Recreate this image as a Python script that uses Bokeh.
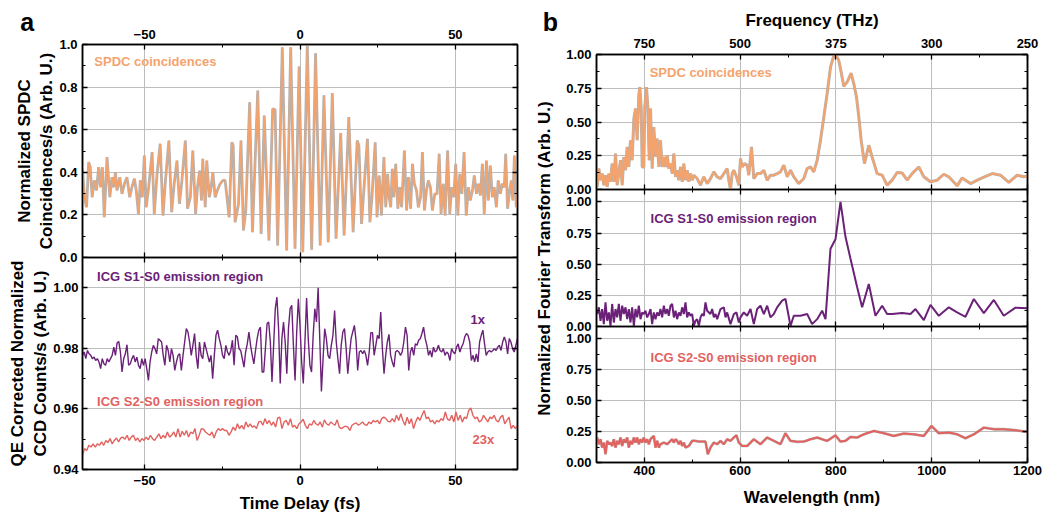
import numpy as np
from bokeh.plotting import figure
from bokeh.layouts import row, column
from bokeh.models import Range1d, LinearAxis, FixedTicker, NumeralTickFormatter, Label
from bokeh.embed import file_html
from bokeh.resources import INLINE

FONT = "Liberation Sans"
ORANGE = "#F5A36D"
GREY = "#A9A9A9"
PURPLE = "#6B2178"
PINK = "#E1625F"

# ---------------- Panel a: SPDC interferogram ----------------
spdc_t = [-70.0, -69.4, -68.7, -68.0, -67.5, -66.9, -66.2, -65.5, -64.8, -64.2,
          -63.6, -63.0, -62.1, -61.2, -60.5, -60.0, -59.4, -58.9, -58.0, -57.3,
          -56.5, -55.7, -54.8, -54.1, -53.3, -52.7, -52.0, -51.4, -50.75, -50.1,
          -49.5, -48.7, -47.6, -46.9, -46.0, -45.0, -44.1, -43.3, -42.2, -41.3,
          -40.5, -39.6, -38.8, -38.0, -36.9, -36.2, -35.3, -34.5, -33.6, -33.0,
          -32.3, -31.7, -31.3, -30.5, -30.0, -29.2, -28.6, -28.05, -27.3, -26.6,
          -25.7, -24.8, -24.1, -22.8, -21.95, -21.5, -20.9, -19.8, -19.0, -18.2,
          -17.45, -16.2, -15.3, -13.6, -12.5, -11.5, -10.0, -8.8, -8.0, -7.2,
          -5.7, -4.3, -3.0, -1.6, -0.3, 0.9, 2.35, 3.75, 5.0, 6.5,
          7.7, 9.1, 10.4, 11.6, 13.1, 14.2, 15.7, 17.1, 18.4, 18.95,
          19.8, 21.7, 22.5, 23.2, 24.2, 24.8, 25.5, 26.2, 27.0, 27.6,
          28.2, 28.7, 29.2, 29.7, 30.2, 30.8, 31.5, 32.1, 32.7, 33.6,
          34.3, 34.9, 35.6, 36.2, 36.8, 37.5, 38.1, 38.8, 39.4, 40.05,
          40.7, 41.3, 41.97, 42.6, 43.4, 44.1, 44.8, 45.4, 46.1, 46.7,
          47.5, 48.2, 48.8, 49.5, 50.1, 50.8, 51.4, 52.1, 52.8, 53.5,
          54.2, 54.8, 55.5, 56.1, 56.8, 57.4, 58.05, 58.7, 59.3, 60.0,
          60.6, 61.25, 61.9, 62.5, 63.2, 63.8, 64.5, 65.1, 65.75, 66.2,
          66.8, 67.5, 68.0, 68.5, 69.0, 69.6, 70.0]
spdc_v = [0.420, 0.283, 0.236, 0.448, 0.424, 0.283, 0.362, 0.315, 0.424, 0.330,
          0.424, 0.189, 0.471, 0.283, 0.377, 0.330, 0.401, 0.315, 0.377, 0.299,
          0.346, 0.377, 0.283, 0.330, 0.370, 0.315, 0.205, 0.362, 0.283, 0.479,
          0.236, 0.330, 0.495, 0.205, 0.393, 0.534, 0.197, 0.362, 0.549, 0.213,
          0.346, 0.455, 0.252, 0.362, 0.549, 0.229, 0.283, 0.502, 0.205, 0.330,
          0.408, 0.268, 0.463, 0.236, 0.455, 0.283, 0.330, 0.401, 0.283, 0.315,
          0.346, 0.362, 0.362, 0.189, 0.541, 0.526, 0.166, 0.250, 0.549, 0.127,
          0.220, 0.729, 0.119, 0.784, 0.111, 0.667, 0.080, 0.698, 0.693, 0.056,
          0.987, 0.033, 0.987, 0.041, 0.897, 0.025, 1.000, 0.036, 0.959, 0.056,
          0.761, 0.072, 0.772, 0.088, 0.584, 0.103, 0.659, 0.119, 0.549, 0.526,
          0.158, 0.557, 0.166, 0.291, 0.541, 0.189, 0.385, 0.197, 0.471, 0.236,
          0.393, 0.283, 0.236, 0.416, 0.283, 0.440, 0.229, 0.330, 0.236, 0.502,
          0.221, 0.377, 0.229, 0.440, 0.346, 0.315, 0.236, 0.283, 0.495, 0.221,
          0.315, 0.362, 0.330, 0.221, 0.299, 0.299, 0.487, 0.205, 0.346, 0.197,
          0.502, 0.205, 0.330, 0.283, 0.440, 0.197, 0.393, 0.299, 0.495, 0.197,
          0.330, 0.268, 0.315, 0.385, 0.299, 0.346, 0.291, 0.440, 0.205, 0.455,
          0.268, 0.432, 0.283, 0.330, 0.236, 0.362, 0.299, 0.346, 0.330, 0.487,
          0.229, 0.315, 0.362, 0.268, 0.479, 0.236, 0.300]

# ICG S1-S0 emission region (1x), evenly sampled from -70 to 70 fs
s1_counts = [
    0.9777, 0.9788, 0.9766, 0.9793, 0.9782, 0.9777, 0.9766, 0.9771, 0.9760, 0.9766,
    0.9755, 0.9733, 0.9766, 0.9749, 0.9744, 0.9766, 0.9755, 0.9766, 0.9777, 0.9804,
    0.9777, 0.9818, 0.9823, 0.9788, 0.9722, 0.9766, 0.9782, 0.9812, 0.9744, 0.9749,
    0.9766, 0.9777, 0.9755, 0.9771, 0.9744, 0.9733, 0.9766, 0.9744, 0.9766, 0.9733,
    0.9694, 0.9755, 0.9788, 0.9810, 0.9799, 0.9782, 0.9832, 0.9827, 0.9821, 0.9777,
    0.9744, 0.9810, 0.9793, 0.9755, 0.9799, 0.9777, 0.9727, 0.9755, 0.9777, 0.9782,
    0.9727, 0.9777, 0.9821, 0.9865, 0.9854, 0.9821, 0.9777, 0.9810, 0.9849, 0.9777,
    0.9733, 0.9821, 0.9777, 0.9766, 0.9821, 0.9799, 0.9777, 0.9755, 0.9777, 0.9700,
    0.9777, 0.9843, 0.9860, 0.9832, 0.9810, 0.9777, 0.9766, 0.9810, 0.9788, 0.9777,
    0.9793, 0.9827, 0.9744, 0.9843, 0.9838, 0.9799, 0.9793, 0.9766, 0.9738, 0.9788,
    0.9815, 0.9854, 0.9810, 0.9777, 0.9749, 0.9793, 0.9832, 0.9860, 0.9870, 0.9722,
    0.9722, 0.9799, 0.9881, 0.9887, 0.9821, 0.9689, 0.9810, 0.9931, 0.9969, 0.9865,
    0.9684, 0.9832, 0.9887, 0.9821, 0.9716, 0.9865, 0.9931, 0.9942, 0.9810, 0.9694,
    0.9854, 0.9964, 0.9876, 0.9755, 0.9684, 0.9821, 0.9966, 0.9832, 0.9744, 0.9722,
    0.9843, 0.9931, 0.9887, 1.0000, 0.9832, 0.9658, 0.9766, 0.9865, 0.9832, 0.9777,
    0.9766, 0.9810, 0.9843, 0.9925, 0.9821, 0.9766, 0.9716, 0.9810, 0.9854, 0.9865,
    0.9799, 0.9716, 0.9777, 0.9832, 0.9854, 0.9876, 0.9827, 0.9727, 0.9788, 0.9793,
    0.9782, 0.9793, 0.9777, 0.9744, 0.9788, 0.9852, 0.9852, 0.9777, 0.9810, 0.9843,
    0.9832, 0.9920, 0.9799, 0.9716, 0.9777, 0.9821, 0.9846, 0.9777, 0.9755, 0.9738,
    0.9788, 0.9793, 0.9788, 0.9777, 0.9788, 0.9821, 0.9870, 0.9843, 0.9727, 0.9788,
    0.9804, 0.9777, 0.9815, 0.9810, 0.9827, 0.9832, 0.9849, 0.9870, 0.9832, 0.9810,
    0.9777, 0.9793, 0.9771, 0.9804, 0.9788, 0.9793, 0.9810, 0.9793, 0.9788, 0.9799,
    0.9777, 0.9788, 0.9782, 0.9760, 0.9799, 0.9788, 0.9782, 0.9804, 0.9815, 0.9788,
    0.9804, 0.9815, 0.9838, 0.9849, 0.9843, 0.9821, 0.9760, 0.9777, 0.9755, 0.9782,
    0.9755, 0.9821, 0.9843, 0.9860, 0.9815, 0.9777, 0.9788, 0.9793, 0.9788, 0.9793,
    0.9799, 0.9793, 0.9804, 0.9810, 0.9793, 0.9821, 0.9838, 0.9821, 0.9782, 0.9832,
    0.9821, 0.9799, 0.9788, 0.9810, 0.9834]

# ICG S2-S0 emission region (23x), evenly sampled from -70 to 70 fs
s2_counts = [
    0.9447, 0.9469, 0.9463, 0.9480, 0.9474, 0.9485, 0.9474, 0.9485, 0.9480, 0.9491,
    0.9480, 0.9496, 0.9489, 0.9502, 0.9485, 0.9496, 0.9504, 0.9491, 0.9504, 0.9507,
    0.9500, 0.9513, 0.9496, 0.9507, 0.9513, 0.9496, 0.9504, 0.9491, 0.9502, 0.9496,
    0.9507, 0.9498, 0.9513, 0.9502, 0.9496, 0.9507, 0.9518, 0.9502, 0.9513, 0.9504,
    0.9524, 0.9507, 0.9513, 0.9524, 0.9507, 0.9535, 0.9507, 0.9526, 0.9513, 0.9529,
    0.9507, 0.9524, 0.9518, 0.9535, 0.9496, 0.9513, 0.9535, 0.9533, 0.9524, 0.9518,
    0.9513, 0.9524,
    0.9504, 0.9524, 0.9535, 0.9529, 0.9535, 0.9529, 0.9529, 0.9513, 0.9524, 0.9540,
    0.9529, 0.9551, 0.9535, 0.9546, 0.9533, 0.9557, 0.9540, 0.9551, 0.9540, 0.9544,
    0.9535, 0.9557, 0.9559, 0.9546, 0.9568, 0.9551, 0.9562, 0.9546, 0.9557, 0.9540,
    0.9570, 0.9573, 0.9535, 0.9557, 0.9562, 0.9546, 0.9568, 0.9540, 0.9546, 0.9535,
    0.9551, 0.9557, 0.9566, 0.9546, 0.9535, 0.9551, 0.9546, 0.9562, 0.9551, 0.9546,
    0.9557, 0.9540, 0.9564, 0.9551, 0.9546, 0.9557, 0.9551, 0.9546, 0.9564, 0.9540,
    0.9535, 0.9540, 0.9543, 0.9540, 0.9529, 0.9546, 0.9551, 0.9554, 0.9546, 0.9551,
    0.9557, 0.9548,
    0.9546, 0.9557, 0.9551, 0.9562, 0.9557, 0.9562, 0.9551, 0.9568, 0.9573, 0.9568,
    0.9559, 0.9557, 0.9568, 0.9557, 0.9579, 0.9562, 0.9584, 0.9562, 0.9546, 0.9573,
    0.9551, 0.9568, 0.9535, 0.9557, 0.9573, 0.9562, 0.9579, 0.9595, 0.9568, 0.9573,
    0.9557, 0.9562, 0.9551, 0.9562, 0.9557, 0.9568, 0.9562, 0.9590, 0.9566, 0.9562,
    0.9579, 0.9557, 0.9590, 0.9562, 0.9579, 0.9557, 0.9573, 0.9568, 0.9595, 0.9603,
    0.9579, 0.9568, 0.9573, 0.9557, 0.9562, 0.9579, 0.9568, 0.9557, 0.9573, 0.9568,
    0.9579, 0.9562, 0.9557, 0.9573, 0.9579, 0.9551, 0.9562, 0.9573, 0.9535, 0.9546,
    0.9535, 0.9546]

# ---------------- Panel b: Fourier transforms ----------------
ft_spdc_wl = [301.4, 304.9, 308.4, 311.8, 315.3, 318.8, 322.3, 325.8, 329.2, 332.7,
              336.2, 339.7, 343.2, 346.6, 350.1, 353.6, 357.1, 360.6, 364.0, 367.5,
              371.0, 374.5, 378.0, 381.4, 384.9, 388.4, 390.5, 393.3, 395.4, 398.8,
              400.9, 404.4, 407.2, 410.0, 412.8, 416.2, 419.7, 423.2, 426.7, 430.2,
              433.6, 437.1, 440.6, 444.1, 447.6, 451.0, 454.5, 458.0, 461.5, 465.0,
              468.4, 471.9, 475.4, 478.9, 482.4, 485.8, 489.3, 492.8, 496.3, 499.8,
              503.2, 510.2, 517.2, 524.1, 531.1, 538.0, 545.0, 552.0, 558.9, 565.9,
              572.8, 576.3, 579.8, 583.3, 586.8, 592.3, 597.2, 600.7, 604.2, 609.0,
              614.6, 618.1, 623.6, 628.5, 635.5, 642.4, 649.4, 656.4, 663.3, 670.3,
              677.2, 684.2, 691.2, 698.1, 705.1, 712.0, 722.5, 732.9, 739.9, 746.8,
              753.8, 760.8, 767.7, 774.7, 781.6, 788.6, 795.6, 799.7, 806.0, 810.9,
              816.4, 823.4, 831.7, 837.3, 842.9, 847.8, 852.6, 859.6, 868.6, 875.6,
              886.0, 896.5, 906.9, 917.4, 927.8, 938.2, 948.7, 959.1, 973.0, 983.5,
              997.4, 1011.3, 1025.2, 1035.7, 1053.1, 1063.5, 1080.9, 1101.8, 1126.2, 1143.6,
              1161.0, 1178.4, 1192.3, 1200.0]
ft_spdc = [0.020, 0.155, 0.069, 0.118, 0.032, 0.106, 0.020, 0.118, 0.057, 0.192,
           0.057, 0.266, 0.032, 0.118, 0.217, 0.032, 0.241, 0.143, 0.315, 0.167,
           0.365, 0.217, 0.525, 0.600, 0.365, 0.699, 0.759, 0.611, 0.167, 0.167,
           0.616, 0.759, 0.611, 0.217, 0.600, 0.155, 0.463, 0.241, 0.377, 0.167,
           0.365, 0.167, 0.241, 0.167, 0.254, 0.155, 0.192, 0.118, 0.266, 0.094,
           0.143, 0.069, 0.167, 0.057, 0.192, 0.069, 0.143, 0.057, 0.118, 0.069,
           0.106, 0.081, 0.032, 0.094, 0.044, 0.081, 0.131, 0.094, 0.081, 0.118,
           0.155, 0.069, 0.000, 0.118, 0.143, 0.094, 0.032, 0.229, 0.167, 0.192,
           0.179, 0.106, 0.315, 0.081, 0.118, 0.118, 0.143, 0.069, 0.106, 0.106,
           0.118, 0.131, 0.180, 0.094, 0.143, 0.094, 0.044, 0.081, 0.155, 0.167,
           0.131, 0.217, 0.365, 0.537, 0.709, 0.906, 0.993, 1.000, 0.956, 0.869,
           0.764, 0.796, 0.862, 0.783, 0.684, 0.537, 0.365, 0.192, 0.328, 0.241,
           0.118, 0.106, 0.032, 0.069, 0.126, 0.123, 0.069, 0.118, 0.167, 0.094,
           0.057, 0.069, 0.113, 0.094, 0.027, 0.086, 0.044, 0.081, 0.118, 0.106,
           0.052, 0.106, 0.094, 0.099]

ft_s1_wl = [301.4, 304.9, 308.4, 311.8, 315.3, 318.8, 322.3, 325.8, 329.2, 332.7,
            336.2, 339.7, 343.2, 346.6, 350.1, 353.6, 357.1, 360.6, 364.0, 367.5,
            371.0, 374.5, 378.0, 381.4, 384.9, 388.4, 391.9, 395.4, 398.8, 402.3,
            405.8, 409.3, 412.8, 416.2, 419.7, 423.2, 426.7, 430.2, 433.6, 437.1,
            440.6, 444.1, 447.6, 451.0, 454.5, 458.0, 461.5, 465.0, 468.4, 471.9,
            475.4, 478.9, 482.4, 485.8, 489.3, 492.8, 496.3, 499.8, 503.2, 506.7,
            510.2, 513.7, 517.2, 520.6, 524.1, 527.6, 531.1, 538.0, 541.5, 545.0,
            548.5, 552.0, 558.9, 565.9, 569.4, 572.8, 579.8, 586.8, 592.3, 597.2,
            600.7, 607.6, 614.6, 621.6, 628.5, 635.5, 642.4, 649.4, 656.4, 663.3,
            670.3, 677.2, 687.7, 694.6, 705.1, 712.0, 725.9, 739.9, 750.3, 760.8,
            771.2, 778.2, 788.6, 799.0, 809.5, 819.9, 830.4, 844.3, 854.7, 868.6,
            882.5, 896.5, 906.9, 917.4, 938.2, 955.6, 966.1, 983.5, 997.4, 1014.8,
            1035.7, 1053.1, 1070.5, 1087.9, 1108.8, 1129.7, 1150.5, 1174.9, 1200.0]
ft_s1 = [0.100, 0.154, 0.046, 0.140, 0.019, 0.194, 0.046, 0.113, 0.005, 0.181,
         0.032, 0.140, 0.073, 0.181, 0.046, 0.167, 0.100, 0.154, 0.059, 0.140,
         0.032, 0.154, 0.005, 0.140, 0.073, 0.167, 0.059, 0.113, 0.100, 0.127,
         0.073, 0.100, 0.140, 0.019, 0.113, 0.059, 0.113, 0.086, 0.140, 0.073,
         0.167, 0.100, 0.140, 0.086, 0.167, 0.181, 0.073, 0.127, 0.059, 0.113,
         0.086, 0.154, 0.100, 0.194, 0.073, 0.113, 0.086, 0.100, 0.005, 0.046,
         0.059, 0.005, 0.073, 0.100, 0.086, 0.194, 0.127, 0.100, 0.140, 0.073,
         0.100, 0.059, 0.140, 0.154, 0.073, 0.113, 0.019, 0.100, 0.113, 0.032,
         0.073, 0.113, 0.086, 0.140, 0.019, 0.140, 0.167, 0.100, 0.167, 0.073,
         0.100, 0.154, 0.208, 0.221, 0.005, 0.086, 0.086, 0.100, 0.019, 0.059,
         0.127, 0.059, 0.625, 0.700, 1.000, 0.720, 0.544, 0.315, 0.154, 0.342,
         0.086, 0.167, 0.100, 0.100, 0.108, 0.100, 0.140, 0.051, 0.173, 0.086,
         0.154, 0.113, 0.078, 0.221, 0.108, 0.213, 0.086, 0.151, 0.146]

ft_s2_wl = [301.4, 304.9, 308.4, 311.8, 315.3, 318.8, 322.3, 325.8, 329.2, 332.7,
            336.2, 339.7, 343.2, 346.6, 350.1, 353.6, 357.1, 360.6, 364.0, 367.5,
            371.0, 374.5, 378.0, 381.4, 384.9, 388.4, 391.9, 395.4, 398.8, 402.3,
            405.8, 409.3, 412.8, 416.2, 419.7, 423.2, 426.7, 430.2, 433.6, 440.6,
            447.6, 454.5, 458.0, 461.5, 465.0, 468.4, 471.9, 475.4, 478.9, 482.4,
            485.8, 492.8, 499.8, 506.7, 513.7, 527.6, 532.5, 538.0, 545.0, 552.0,
            558.9, 565.9, 572.8, 579.8, 586.8, 592.3, 597.2, 604.2, 614.6, 628.5,
            642.4, 656.4, 670.3, 684.2, 694.6, 705.1, 719.0, 732.9, 746.8, 760.8,
            771.2, 781.6, 799.0, 809.5, 819.9, 830.4, 844.3, 858.2, 879.1, 900.0,
            920.8, 941.7, 962.6, 983.5, 999.5, 1014.8, 1035.7, 1053.1, 1070.5, 1087.9,
            1108.8, 1129.7, 1150.5, 1174.9, 1200.0]
ft_s2 = [0.202, 0.148, 0.188, 0.121, 0.161, 0.067, 0.175, 0.148, 0.161, 0.134,
         0.188, 0.121, 0.175, 0.148, 0.202, 0.134, 0.188, 0.161, 0.202, 0.121,
         0.175, 0.148, 0.202, 0.161, 0.202, 0.148, 0.188, 0.161, 0.202, 0.161,
         0.188, 0.148, 0.188, 0.202, 0.215, 0.121, 0.175, 0.121, 0.148, 0.161,
         0.148, 0.175, 0.188, 0.161, 0.188, 0.175, 0.148, 0.175, 0.134, 0.161,
         0.121, 0.134, 0.175, 0.175, 0.169, 0.169, 0.067, 0.121, 0.161, 0.148,
         0.175, 0.148, 0.188, 0.175, 0.202, 0.220, 0.161, 0.134, 0.134, 0.188,
         0.148, 0.202, 0.175, 0.148, 0.237, 0.175, 0.167, 0.169, 0.188, 0.202,
         0.188, 0.175, 0.220, 0.169, 0.175, 0.207, 0.202, 0.228, 0.255, 0.237,
         0.215, 0.234, 0.228, 0.215, 0.296, 0.237, 0.242, 0.228, 0.196, 0.228,
         0.282, 0.269, 0.269, 0.261, 0.247]

freq_ticks_wl = [400, 600, 800, 1000, 1200]
freq_labels = ["750", "500", "375", "300", "250"]

time_grid_s1 = np.linspace(-70, 70, len(s1_counts))
time_grid_s2 = np.linspace(-70, 70, len(s2_counts))

OVERLAP = 8


def base_fig(w, h, xr, yr, left, right, top, bottom, xt, yt, lift=0):
    kw = {}
    if lift:
        kw["margin"] = (-lift, 0, 0, 0)
    p = figure(width=w, height=h, x_range=Range1d(*xr), y_range=Range1d(*yr),
               output_backend="svg", toolbar_location=None,
               x_axis_location=None, y_axis_location=None,
               min_border_left=left, min_border_right=right,
               min_border_top=top, min_border_bottom=bottom, **kw)
    p.outline_line_color = "black"
    p.outline_line_width = 1.5
    p.outline_line_alpha = 1.0
    p.background_fill_color = "white"
    p.border_fill_color = None
    p.xgrid.ticker = FixedTicker(ticks=xt)
    p.ygrid.ticker = FixedTicker(ticks=yt)
    p.grid.grid_line_color = "#BDBDBD"
    p.grid.grid_line_width = 1
    return p


def text_strip(w, h):
    s = figure(width=w, height=h, x_range=Range1d(0, 1), y_range=Range1d(0, 1),
               output_backend="svg", toolbar_location=None,
               x_axis_location=None, y_axis_location=None,
               min_border_left=0, min_border_right=0, min_border_top=0,
               min_border_bottom=0)
    if "frame_align" in s.properties():
        s.frame_align = False
    s.outline_line_color = None
    s.background_fill_color = None
    s.border_fill_color = None
    s.grid.visible = False
    return s


def add_axis(p, side, ticks, minor, show=True, fmt=None, overrides=None,
             title=None, standoff=4, title_standoff=4):
    ax = LinearAxis(ticker=FixedTicker(ticks=ticks, minor_ticks=minor))
    ax.major_tick_in = 5
    ax.major_tick_out = 0
    ax.minor_tick_in = 3
    ax.minor_tick_out = 0
    ax.axis_line_color = "black"
    ax.axis_line_width = 1.5
    ax.major_tick_line_width = 1.3
    ax.minor_tick_line_width = 1.0
    ax.major_label_text_font = FONT
    ax.major_label_text_font_style = "bold"
    ax.major_label_text_color = "black"
    if show:
        ax.major_label_text_font_size = "13px"
        ax.major_label_standoff = standoff
    else:
        ax.major_label_text_font_size = "0px"
        ax.major_label_standoff = 0
        ax.major_label_overrides = {t: "" for t in ticks}
    if fmt:
        ax.formatter = NumeralTickFormatter(format=fmt)
    if overrides:
        ax.major_label_overrides = overrides
    if title:
        ax.axis_label = title
        ax.axis_label_text_font = FONT
        ax.axis_label_text_font_style = "bold"
        ax.axis_label_text_font_size = "17px"
        ax.axis_label_text_color = "black"
        ax.axis_label_standoff = title_standoff
    p.add_layout(ax, side)
    return ax


def add_text(p, x, y, text, color, align="left", size="13px", angle=0):
    p.add_layout(Label(x=x, y=y, text=text, text_color=color, text_font=FONT,
                       text_font_style="bold", text_font_size=size,
                       text_align=align, text_baseline="middle",
                       angle=angle, angle_units="deg"))


t_major = [-50, 0, 50]
t_minor = [-75, -25, 25, 75]
A_W = 525
HDR_H = 40

# ---- header strip with panel letter a ----
hdr_a = text_strip(A_W, HDR_H)
add_text(hdr_a, 0.051, 0.475, "a", "black", align="center", size="25px")

# ---- a1: SPDC coincidences ----
a1 = base_fig(A_W, 22 + 213 + OVERLAP, (-70, 70), (0, 1.0), 82, 8, 22, OVERLAP,
              t_major, [0.2, 0.4, 0.6, 0.8], lift=HDR_H - 22)
add_axis(a1, "above", t_major, t_minor, show=True, standoff=6)
add_axis(a1, "below", t_major, t_minor, show=False)
add_axis(a1, "left", [0, 0.2, 0.4, 0.6, 0.8, 1.0], [0.1, 0.3, 0.5, 0.7, 0.9],
         show=True, fmt="0.0", title="Normalized SPDC\nCoincidences/s (Arb. U.)",
         standoff=5, title_standoff=0)
add_axis(a1, "right", [0, 0.2, 0.4, 0.6, 0.8, 1.0], [0.1, 0.3, 0.5, 0.7, 0.9],
         show=False)
a1.line(spdc_t, spdc_v, line_color=GREY, line_width=2.8, line_alpha=0.9)
a1.line(spdc_t, spdc_v, line_color=ORANGE, line_width=1.4)
add_text(a1, -66.2, 0.92, "SPDC coincidences", ORANGE)

# ---- a2: ICG CCD counts ----
a2 = base_fig(A_W, 212 + 46, (-70, 70), (0.94, 1.01), 82, 8, 0, 46, t_major,
              [0.96, 0.98, 1.00], lift=OVERLAP)
add_axis(a2, "below", t_major, t_minor, show=True, title="Time Delay (fs)",
         standoff=6, title_standoff=6)
add_axis(a2, "above", t_major, t_minor, show=False)
add_axis(a2, "left", [0.94, 0.96, 0.98, 1.00], [0.95, 0.97, 0.99], show=True,
         fmt="0.00", title="QE Corrected Normalized\nCCD Counts/s (Arb. U.)",
         standoff=4, title_standoff=0)
add_axis(a2, "right", [0.94, 0.96, 0.98, 1.00], [0.95, 0.97, 0.99], show=False)
a2.line(time_grid_s2, s2_counts, line_color=PINK, line_width=1.4)
a2.line(time_grid_s1, s1_counts, line_color=PURPLE, line_width=1.4)
add_text(a2, -65.3, 1.0037, "ICG S1-S0 emission region", PURPLE)
add_text(a2, -65.3, 0.9625, "ICG S2-S0 emission region", PINK)
add_text(a2, 57.2, 0.9894, "1x", PURPLE, align="center")
add_text(a2, 59.0, 0.9499, "23x", PINK, align="center")

# ---- label strip for panel b ----
lab = text_strip(36, 514)
add_text(lab, 0.53, 0.498, "Normalized Fourier Transform (Arb. U.)", "black",
         align="center", size="17px", angle=90)
add_text(lab, 0.69, 0.959, "b", "black", align="center", size="25px")

wl_major = [400, 600, 800, 1000, 1200]
wl_minor = [500, 700, 900, 1100]
y_major = [0, 0.25, 0.5, 0.75, 1.0]
y_minor = [0.125, 0.375, 0.625, 0.875]
B_W = 481

# ---- b1 ----
b1 = base_fig(B_W, 54 + 135 + OVERLAP, (300, 1200), (0, 1.0), 35, 15, 54, OVERLAP,
              wl_major, y_major)
add_axis(b1, "above", freq_ticks_wl, wl_minor, show=True,
         overrides={w: l for w, l in zip(freq_ticks_wl, freq_labels)},
         title="Frequency (THz)", standoff=7, title_standoff=6)
add_axis(b1, "below", wl_major, wl_minor, show=False)
add_axis(b1, "left", y_major, y_minor, show=True, fmt="0.00", standoff=5)
add_axis(b1, "right", y_major, y_minor, show=False)
b1.line(ft_spdc_wl, ft_spdc, line_color=GREY, line_width=3.0, line_alpha=0.9)
b1.line(ft_spdc_wl, ft_spdc, line_color=ORANGE, line_width=2.0)
add_text(b1, 411, 0.864, "SPDC coincidences", ORANGE)

# ---- b2 ----
b2 = base_fig(B_W, 137 + OVERLAP, (300, 1200), (0, 1.1), 35, 15, 0, OVERLAP,
              wl_major, y_major, lift=OVERLAP)
add_axis(b2, "above", wl_major, wl_minor, show=False)
add_axis(b2, "below", wl_major, wl_minor, show=False)
add_axis(b2, "left", y_major, y_minor, show=True, fmt="0.00", standoff=5)
add_axis(b2, "right", y_major, y_minor, show=False)
b2.line(ft_s1_wl, ft_s1, line_color=PURPLE, line_width=2.0)
add_text(b2, 413, 0.868, "ICG S1-S0 emission region", PURPLE)

# ---- b3 ----
b3 = base_fig(B_W, 136 + 50, (300, 1200), (0, 1.1), 35, 15, 0, 50, wl_major,
              y_major, lift=OVERLAP)
add_axis(b3, "below", wl_major, wl_minor, show=True, title="Wavelength (nm)",
         standoff=3, title_standoff=10)
add_axis(b3, "above", wl_major, wl_minor, show=False)
add_axis(b3, "left", y_major, y_minor, show=True, fmt="0.00", standoff=5)
add_axis(b3, "right", y_major, y_minor, show=False)
b3.line(ft_s2_wl, ft_s2, line_color=GREY, line_width=2.8, line_alpha=0.8)
b3.line(ft_s2_wl, ft_s2, line_color=PINK, line_width=2.0)
add_text(b3, 413, 0.852, "ICG S2-S0 emission region", PINK)

layout = row(column(hdr_a, a1, a2, spacing=0), lab,
             column(b1, b2, b3, spacing=0), spacing=0)

open("out.html", "w").write(file_html(layout, INLINE))
